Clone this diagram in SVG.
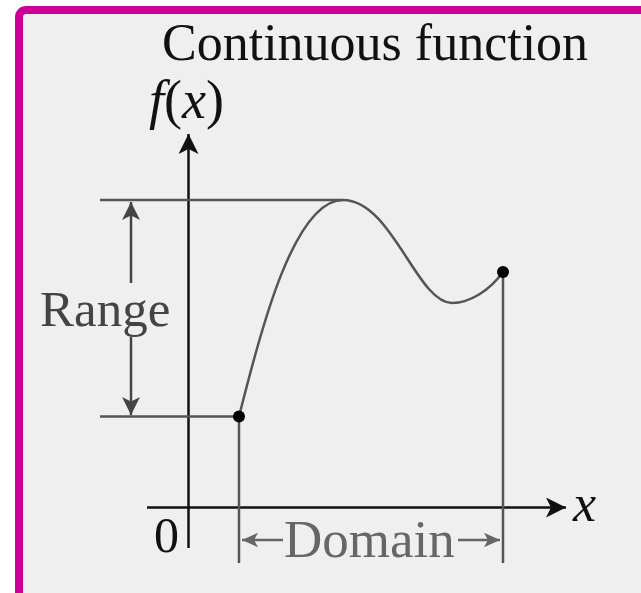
<svg xmlns="http://www.w3.org/2000/svg" width="641" height="593" viewBox="0 0 641 593">
<defs>
<style>
.serif{font-family:"Liberation Serif","Times New Roman",serif;}
.axis{stroke:#111;stroke-width:2.5;fill:none;}
.guide{stroke:#555;stroke-width:2.5;fill:none;}
.curve{stroke:#555;stroke-width:2.5;fill:none;}
</style>
<marker id="axHead" viewBox="0 0 20 20" refX="20" refY="10" markerWidth="20" markerHeight="20" markerUnits="userSpaceOnUse" orient="auto">
<path d="M0,0 L20,10 L0,20 L5,10 Z" fill="#111"/>
</marker>
<marker id="rgHead" viewBox="0 0 20 20" refX="20" refY="10" markerWidth="24" markerHeight="18" markerUnits="userSpaceOnUse" orient="auto">
<path d="M0,0 L20,10 L0,20 L5,10 Z" fill="#444"/>
</marker>
<marker id="dmHead" viewBox="0 0 20 20" refX="20" refY="10" markerWidth="18" markerHeight="16" markerUnits="userSpaceOnUse" orient="auto">
<path d="M0,1 L20,10 L0,19 L5,10 Z" fill="#666"/>
</marker>
</defs>
<rect x="0" y="0" width="641" height="593" fill="#ffffff"/>
<rect x="19" y="10" width="700" height="700" rx="7" fill="#efefef" stroke="#cc0099" stroke-width="8"/>

<g id="title"><text class="serif" x="162" y="60" font-size="52" fill="#111">Continuous function</text></g>

<g id="axes">
<line class="axis" x1="188.5" y1="548" x2="188.5" y2="134" marker-end="url(#axHead)"/>
<line class="axis" x1="147" y1="507.5" x2="566" y2="507.5" marker-end="url(#axHead)"/>
<text class="serif" x="149" y="118" font-size="54" fill="#111"><tspan font-style="italic">f</tspan>(<tspan font-style="italic">x</tspan>)</text>
<text class="serif" x="573" y="521" font-size="52" font-style="italic" fill="#111">x</text>
<text class="serif" x="154" y="552" font-size="50" fill="#111">0</text>
</g>

<g id="connectors">
<line class="guide" x1="100" y1="200" x2="343" y2="200"/>
<line class="guide" x1="100" y1="416.5" x2="239" y2="416.5"/>
<line class="guide" x1="239" y1="416.5" x2="239" y2="563"/>
<line class="guide" x1="503" y1="272" x2="503" y2="563"/>
<line stroke="#444" stroke-width="2.5" x1="131" y1="283" x2="131" y2="202" marker-end="url(#rgHead)"/>
<line stroke="#444" stroke-width="2.5" x1="131" y1="337" x2="131" y2="415" marker-end="url(#rgHead)"/>
<line stroke="#666" stroke-width="2.5" x1="283" y1="540" x2="242" y2="540" marker-end="url(#dmHead)"/>
<line stroke="#666" stroke-width="2.5" x1="458" y1="540" x2="500" y2="540" marker-end="url(#dmHead)"/>
</g>

<g id="curve">
<path class="curve" d="M239,416.5 C255,355 290,200 343,200 C392,200 417,303 452,303 C470,303 490,290 503,272"/>
<circle cx="239" cy="416.5" r="6" fill="#000"/>
<circle cx="503" cy="272" r="6" fill="#000"/>
</g>

<g id="labels">
<text class="serif" x="40" y="326" font-size="51" fill="#444">Range</text>
<text class="serif" x="284" y="557" font-size="53" fill="#666">Domain</text>
</g>
</svg>
